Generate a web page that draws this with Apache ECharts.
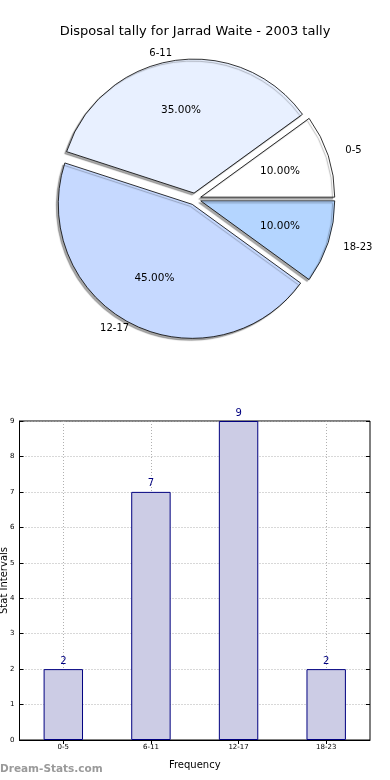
<!DOCTYPE html>
<html><head><meta charset="utf-8">
<script src="https://cdn.jsdelivr.net/npm/echarts@6/dist/echarts.min.js"></script>
<style>html,body{margin:0;padding:0;background:#fff}#c{width:390px;height:780px}</style>
</head><body><div id="c"></div>
<script>
const categories = ['0-5', '6-11', '12-17', '18-23'];
const counts = [2, 7, 9, 2];
const pieColors = ['#ffffff', '#e8f0ff', '#c6d9ff', '#b4d5ff'];
const yTicks = [0, 1, 2, 3, 4, 5, 6, 7, 8, 9];
const titleText = 'Disposal tally for Jarrad Waite - 2003 tally';

const F = 'DejaVu Sans';
const cx = 195, cy = 199, R = 134, D = 6;
const labelGaps = [18, 7, 5, 16];

const pieData = categories.map((c, i) => ({
  name: c, value: counts[i], selected: true,
  itemStyle: { color: pieColors[i] },
  labelLine: { length: labelGaps[i], length2: 0 }
}));
const pieLabelData = categories.map((c, i) => ({
  name: c, value: counts[i], selected: true
}));
// half-band positions so grid lines fall on the category centres
const halfBand = [];
categories.forEach(c => { halfBand.push(''); halfBand.push(c); });
halfBand.push('');

const chart = echarts.init(document.getElementById('c'), null, { renderer: 'canvas' });
chart.setOption({
  animation: false,
  textStyle: { fontFamily: F },
  title: {
    text: titleText, left: 'center', top: 20,
    textStyle: { fontFamily: F, fontSize: 13, fontWeight: 'normal', color: '#000' }
  },
  graphic: [{
    type: 'text', left: 0, top: 764,
    style: { text: 'Dream-Stats.com', fill: '#9a9a9a', font: 'bold 10.5px "DejaVu Sans"' }
  }],
  grid: {
    left: 19.5, right: 20, top: 421, bottom: 40, outerBoundsMode: 'none', containLabel: false,
    show: true, borderColor: '#000', borderWidth: 1, backgroundColor: 'transparent'
  },
  xAxis: [{
    type: 'category', data: categories, boundaryGap: true,
    name: 'Frequency', nameLocation: 'middle', nameGap: 20,
    nameTextStyle: { fontFamily: F, fontSize: 10, color: '#000' },
    axisLine: { lineStyle: { color: '#000' } },
    axisTick: { show: true, alignWithLabel: true, inside: true, length: 4, lineStyle: { color: '#000' } },
    axisLabel: { fontFamily: F, fontSize: 7, color: '#000', margin: 4 },
    splitLine: { show: false }
  }, {
    type: 'category', data: halfBand, boundaryGap: false, position: 'top',
    axisLine: { show: false }, axisLabel: { show: false },
    axisTick: { show: true, inside: true, length: 4, interval: i => i % 2 === 1, lineStyle: { color: '#000' } },
    splitLine: { show: true, interval: i => i % 2 === 1, lineStyle: { color: '#b0b0b0', type: [1, 2], width: 1 } }
  }],
  yAxis: [{
    type: 'value', min: yTicks[0], max: yTicks[yTicks.length - 1], interval: 1,
    name: 'Stat Intervals', nameLocation: 'middle', nameGap: 10, nameRotate: 90,
    nameMoveOverlap: false,
    nameTextStyle: { fontFamily: F, fontSize: 10, color: '#000' },
    axisLine: { show: true, lineStyle: { color: '#000' } },
    axisTick: { show: true, inside: true, length: 4, lineStyle: { color: '#000' } },
    axisLabel: { fontFamily: F, fontSize: 7, color: '#000', margin: 5 },
    splitLine: { show: true, lineStyle: { color: '#b0b0b0', type: [1, 2], width: 1 } }
  }, {
    type: 'value', min: yTicks[0], max: yTicks[yTicks.length - 1], interval: 1, position: 'right',
    axisLine: { show: false }, axisLabel: { show: false }, splitLine: { show: false },
    axisTick: { show: true, inside: true, length: 4, lineStyle: { color: '#000' } }
  }],
  series: [
    {
      type: 'pie', center: [cx, cy], radius: [0, R],
      startAngle: 0, clockwise: false,
      selectedMode: 'multiple', selectedOffset: D,
      avoidLabelOverlap: false, minShowLabelAngle: 0,
      itemStyle: {
        borderColor: '#000', borderWidth: 0.8,
        shadowColor: 'rgba(0,0,0,0.35)', shadowBlur: 1, shadowOffsetX: -2, shadowOffsetY: 2
      },
      emphasis: { disabled: true },
      select: { itemStyle: { borderColor: '#000', borderWidth: 0.8 } },
      label: {
        show: true, position: 'outside', formatter: '{b}',
        fontFamily: F, fontSize: 10, color: '#000', distanceToLabelLine: 0
      },
      labelLine: { show: false, length: 13, length2: 0 },
      data: pieData
    },
    {
      type: 'pie', center: [cx, cy], radius: [0, R * 1.2],
      startAngle: 0, clockwise: false,
      selectedMode: 'multiple', selectedOffset: D,
      avoidLabelOverlap: false, silent: true,
      itemStyle: { color: 'rgba(0,0,0,0)', borderWidth: 0 },
      select: { itemStyle: { color: 'rgba(0,0,0,0)', borderWidth: 0 } },
      emphasis: { disabled: true },
      label: {
        show: true, position: 'inside',
        formatter: p => p.percent.toFixed(2) + '%',
        fontFamily: F, fontSize: 10.5, color: '#000'
      },
      labelLine: { show: false },
      data: pieLabelData
    },
    {
      type: 'bar', data: counts, barWidth: '45%', xAxisIndex: 0, yAxisIndex: 0,
      itemStyle: { color: '#ccccE5', borderColor: '#000080', borderWidth: 1 },
      label: { show: true, position: 'top', distance: 3, color: '#000080', fontFamily: F, fontSize: 10 }
    }
  ]
});
</script></body></html>
